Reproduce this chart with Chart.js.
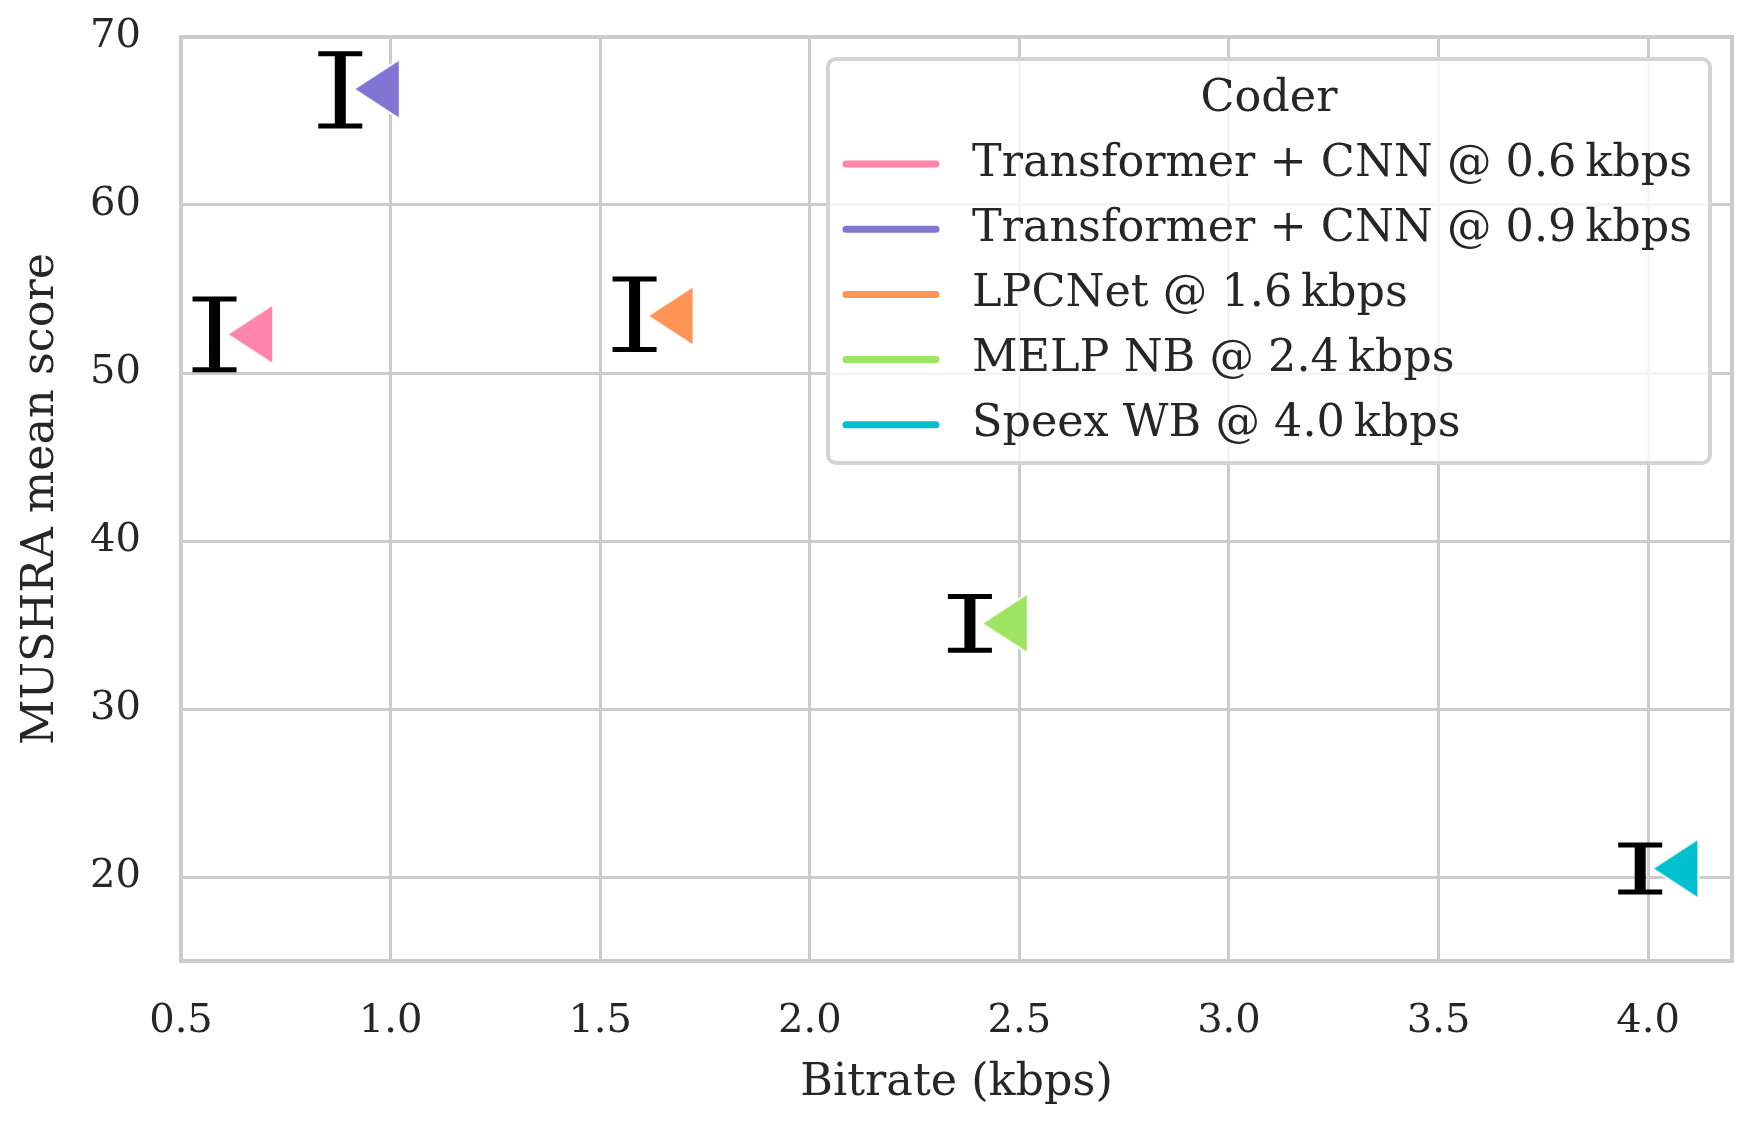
<!DOCTYPE html>
<html>
<head>
<meta charset="utf-8">
<script src="https://cdn.jsdelivr.net/npm/chart.js@4.4.1/dist/chart.umd.min.js"></script>
<style>
  html, body { margin: 0; padding: 0; background: #fff; }
  #wrap { width: 1751px; height: 1128px; }
</style>
</head>
<body>
<div id="wrap"><canvas id="mushraChart" width="1751" height="1128"></canvas></div>
<script>
// values
const coders = [
    'Transformer + CNN @ 0.6\u2009kbps',
    'Transformer + CNN @ 0.9\u2009kbps',
    'LPCNet @ 1.6\u2009kbps',
    'MELP NB @ 2.4\u2009kbps',
    'Speex WB @ 4.0\u2009kbps'
];
const coderColors = ['#ff86aa', '#7f76d4', '#ff9457', '#a0e464', '#00bfcf'];
const markerBitrate = [0.665, 0.967, 1.668, 2.465, 4.065];
const errorBitrate = [0.58, 0.88, 1.582, 2.382, 3.981];
const meanScore = [52.3, 66.9, 53.4, 35.1, 20.5];
const ciLow = [50.2, 64.7, 51.4, 33.5, 19.1];
const ciHigh = [54.4, 69.0, 55.6, 36.7, 21.9];
const xTicks = [0.5, 1.0, 1.5, 2.0, 2.5, 3.0, 3.5, 4.0];
const yTicks = [20, 30, 40, 50, 60, 70];

const textColor = '#262626';
const gridColor = '#cccccc';
const fontFamily = "'DejaVu Serif', 'Liberation Serif', serif";
const labelSize = 44.5;

Chart.defaults.font.family = fontFamily;
Chart.defaults.font.size = 40;
Chart.defaults.color = textColor;

// left pointing triangle with a thin white edge, like the '<' marker
function triangleMarker(color) {
    const c = document.createElement('canvas');
    c.width = 52;
    c.height = 66;
    const g = c.getContext('2d');
    g.beginPath();
    g.moveTo(3, 33);
    g.lineTo(49, 3);
    g.lineTo(49, 63);
    g.closePath();
    g.fillStyle = color;
    g.fill();
    g.lineWidth = 2;
    g.strokeStyle = '#ffffff';
    g.stroke();
    return c;
}

// error bars: one broken line, caps drawn as 'line' points
const errorPoints = [];
errorBitrate.forEach((x, i) => {
    errorPoints.push({ x: x, y: ciLow[i] }, { x: x, y: ciHigh[i] }, { x: x, y: null });
});

const datasets = coders.map((name, i) => ({
    label: name,
    data: [{ x: markerBitrate[i], y: meanScore[i] }],
    pointStyle: triangleMarker(coderColors[i]),
    pointRadius: 30,
    order: 0
}));
datasets.push({
    type: 'line',
    label: 'ci',
    data: errorPoints,
    showLine: true,
    spanGaps: false,
    borderColor: '#000000',
    borderWidth: 11,
    borderCapStyle: 'butt',
    pointStyle: 'line',
    pointRadius: 22,
    pointBorderWidth: 5,
    pointBorderColor: '#000000',
    pointBackgroundColor: '#000000',
    tension: 0,
    order: 5
});

// plot frame
const framePlugin = {
    id: 'frame',
    beforeDatasetsDraw(chart) {
        const a = chart.chartArea;
        const ctx = chart.ctx;
        ctx.save();
        ctx.strokeStyle = gridColor;
        ctx.lineWidth = 4;
        ctx.strokeRect(a.left, a.top, a.right - a.left, a.bottom - a.top);
        ctx.restore();
    }
};

// legend box in the upper right of the plot
const legendPlugin = {
    id: 'coderLegend',
    afterDraw(chart) {
        const a = chart.chartArea;
        const ctx = chart.ctx;
        ctx.save();
        ctx.font = labelSize + 'px ' + fontFamily;
        let textW = 0;
        coders.forEach(t => { textW = Math.max(textW, ctx.measureText(t).width); });
        const right = a.right - 22;
        const left = right - (15 + 96 + 33 + textW + 18);
        const top = a.top + 22;
        const bottom = a.top + 426;
        const r = 8;

        ctx.beginPath();
        ctx.roundRect(left, top, right - left, bottom - top, r);
        ctx.fillStyle = 'rgba(255,255,255,0.8)';
        ctx.fill();
        ctx.lineWidth = 4;
        ctx.strokeStyle = '#d4d4d4';
        ctx.stroke();

        ctx.fillStyle = textColor;
        ctx.textBaseline = 'middle';
        ctx.textAlign = 'center';
        ctx.fillText('Coder', (left + right) / 2, top + 40);

        ctx.textAlign = 'left';
        coders.forEach((t, i) => {
            const y = top + 105 + i * 65.2;
            ctx.beginPath();
            ctx.moveTo(left + 18, y);
            ctx.lineTo(left + 108, y);
            ctx.lineWidth = 7;
            ctx.lineCap = 'round';
            ctx.strokeStyle = coderColors[i];
            ctx.stroke();
            ctx.fillStyle = textColor;
            ctx.fillText(t, left + 144, y);
        });
        ctx.restore();
    }
};

const ctx = document.getElementById('mushraChart').getContext('2d');
new Chart(ctx, {
    type: 'scatter',
    data: { datasets: datasets },
    plugins: [framePlugin, legendPlugin],
    options: {
        responsive: false,
        animation: false,
        devicePixelRatio: 1,
        layout: { autoPadding: false, padding: { top: 37, right: 19, left: 0, bottom: 0 } },
        plugins: {
            legend: { display: false },
            tooltip: { enabled: false }
        },
        scales: {
            x: {
                type: 'linear',
                min: 0.5,
                max: 4.2,
                afterBuildTicks: s => { s.ticks = xTicks.map(v => ({ value: v })); },
                afterFit: s => {
                    s.height = 167;
                    s.paddingLeft = 0;
                    s.paddingRight = 0;
                },
                grid: { color: gridColor, lineWidth: 3, drawTicks: false },
                border: { display: false },
                ticks: { padding: 37, callback: v => v.toFixed(1) },
                title: {
                    display: true, text: 'Bitrate (kbps)',
                    font: { size: labelSize }, padding: { top: 0, bottom: 18 }
                }
            },
            y: {
                min: 15,
                max: 70,
                afterBuildTicks: s => { s.ticks = yTicks.map(v => ({ value: v })); },
                afterFit: s => {
                    s.width = 181;
                    s.paddingTop = 0;
                    s.paddingBottom = 0;
                },
                grid: { color: gridColor, lineWidth: 3, drawTicks: false },
                border: { display: false },
                ticks: { padding: 40 },
                title: {
                    display: true, text: 'MUSHRA mean score',
                    font: { size: labelSize }, padding: { top: 15, bottom: 0 }
                }
            }
        }
    }
});
</script>
</body>
</html>
